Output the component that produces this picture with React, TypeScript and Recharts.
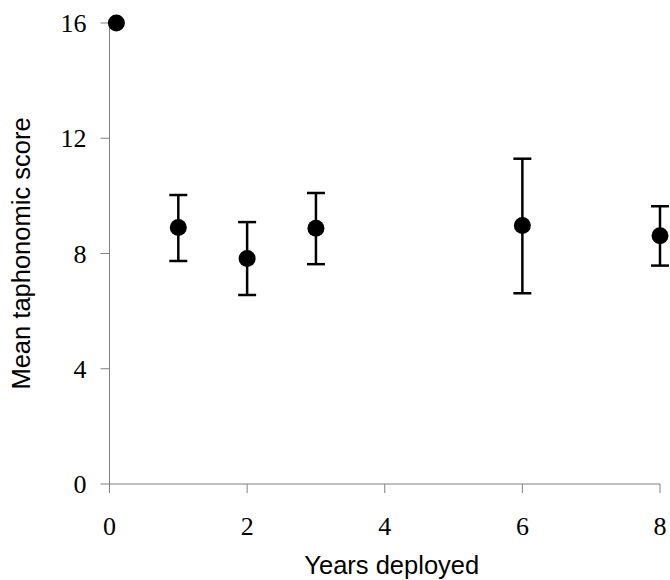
import { ScatterChart, Scatter, XAxis, YAxis, ErrorBar, Label } from "recharts"

const years = [0.1, 1, 2, 3, 6, 8]
const meanScore = [16, 8.9, 7.83, 8.88, 8.97, 8.62]
const upperScore = [16, 10.03, 9.09, 10.1, 11.29, 9.64]
const lowerScore = [16, 7.74, 6.56, 7.63, 6.62, 7.58]
const xTicks = [0, 2, 4, 6, 8]
const yTicks = [0, 4, 8, 12, 16]

const data = years.map((year, i) => {
  const lo = meanScore[i] - lowerScore[i]
  const hi = upperScore[i] - meanScore[i]
  return {
    year,
    score: meanScore[i],
    err: lo === 0 && hi === 0 ? null : [lo, hi],
  }
})

const axisColor = "#808080"
const titleFont = { fill: "#000", fontSize: 25.5, fontFamily: "Liberation Sans" }

const Dot = (props: any) => <circle cx={props.cx} cy={props.cy} r={8.5} fill="#000" />

// draw tick text ourselves so the size is not overridden
const XTick = (props: any) => (
  <text x={props.x} y={props.y} dy="0.71em" textAnchor="middle" fill="#000" fontSize={26} fontFamily="Liberation Serif">
    {props.payload.value}
  </text>
)

const YTick = (props: any) => (
  <text x={props.x} y={props.y} dy="0.355em" textAnchor="end" fill="#000" fontSize={26} fontFamily="Liberation Serif">
    {props.payload.value}
  </text>
)

export default function App() {
  return (
    <div style={{ position: "absolute", top: 0, left: 0, width: 670, height: 580, background: "#fff" }}>
      <ScatterChart width={670} height={580} margin={{ top: 23, right: 10, bottom: 36, left: 0 }}>
        <XAxis
          type="number"
          dataKey="year"
          domain={[0, 8]}
          ticks={xTicks}
          stroke={axisColor}
          tickSize={9}
          tickMargin={24}
          height={60}
          tick={XTick}
        >
          <Label value="Years deployed" position="bottom" offset={12} dx={7} style={titleFont} />
        </XAxis>
        <YAxis
          type="number"
          dataKey="score"
          domain={[0, 16]}
          ticks={yTicks}
          stroke={axisColor}
          tickSize={9}
          tickMargin={14}
          width={109.5}
          tick={YTick}
        >
          <Label
            value="Mean taphonomic score"
            angle={-90}
            position="insideLeft"
            offset={21}
            style={{ ...titleFont, textAnchor: "middle" }}
          />
        </YAxis>
        <Scatter data={data} fill="#000" shape={Dot} isAnimationActive={false}>
          <ErrorBar dataKey="err" direction="y" width={9} stroke="#000" strokeWidth={2.5} />
        </Scatter>
      </ScatterChart>
    </div>
  )
}
